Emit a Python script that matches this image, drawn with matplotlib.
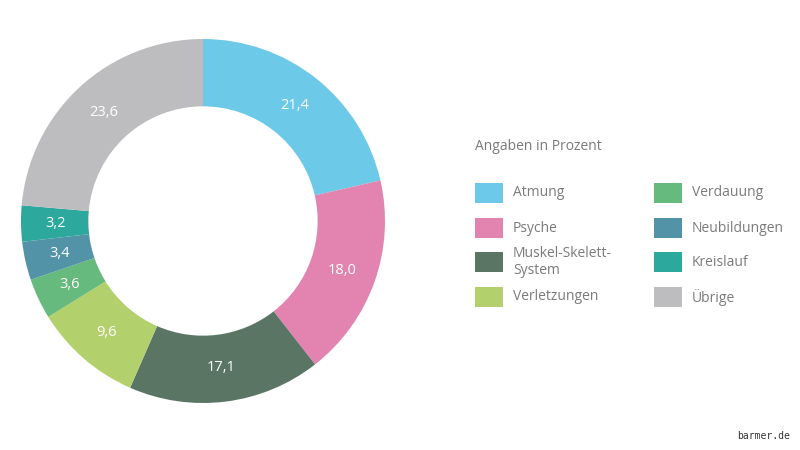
import matplotlib
matplotlib.use("Agg")
import matplotlib.pyplot as plt
from matplotlib.patches import Rectangle
import numpy as np

categories = ["Atmung", "Psyche", "Muskel-Skelett-\nSystem", "Verletzungen",
              "Verdauung", "Neubildungen", "Kreislauf", "Übrige"]
values = [21.4, 18.0, 17.1, 9.6, 3.6, 3.4, 3.2, 23.6]
colors = ["#6DC9E8", "#E383B0", "#5B7565", "#B2D16C",
          "#66BA7E", "#5393A8", "#2DA89C", "#BDBDBF"]
legend_title = "Angaben in Prozent"
source = "barmer.de"

plt.rcParams['font.family'] = ['Open Sans', 'DejaVu Sans']

fig = plt.figure(figsize=(8, 4.5), dpi=100)
W, H = 800, 450
cx, cy, R = 203, 221, 182
ax = fig.add_axes([(cx - R) / W, (H - cy - R) / H, 2 * R / W, 2 * R / H])
wedges, _ = ax.pie(values, colors=colors, startangle=90, counterclock=False,
                   radius=1.0, wedgeprops=dict(width=0.37, edgecolor='none'))
total = sum(values)
ang = 90.0
for v in values:
    mid = ang - v / total * 360 / 2
    ang -= v / total * 360
    r = 0.81
    ax.text(r * np.cos(np.radians(mid)), r * np.sin(np.radians(mid)),
            f"{v:.1f}".replace(".", ","), ha='center', va='center',
            color='white', fontsize=10.5)
ax.set_xlim(-1, 1)
ax.set_ylim(-1, 1)
ax.set_aspect('equal')
ax.axis('off')

txtcol = "#7A7A7A"
fig.text(475 / W, 1 - 146 / H, legend_title, ha='left', va='center',
         fontsize=10, color=txtcol)
row_y = [193, 228, 262, 297]
col_x = [475, 654]
for i, (lab, c) in enumerate(zip(categories, colors)):
    col = i // 4
    row = i % 4
    x = col_x[col]
    y = row_y[row]
    fig.patches.append(Rectangle((x / W, 1 - (y + 10) / H), 28 / W, 20 / H,
                                 transform=fig.transFigure, facecolor=c,
                                 edgecolor='none'))
    fig.text((x + 38) / W, 1 - y / H, lab, ha='left', va='center',
             fontsize=10, color=txtcol, linespacing=1.15)

fig.text(790 / W, 1 - 436 / H, source, ha='right', va='center',
         fontsize=7, color="#333333", family='DejaVu Sans Mono')

fig.savefig("out.png", dpi=100, facecolor='white')
